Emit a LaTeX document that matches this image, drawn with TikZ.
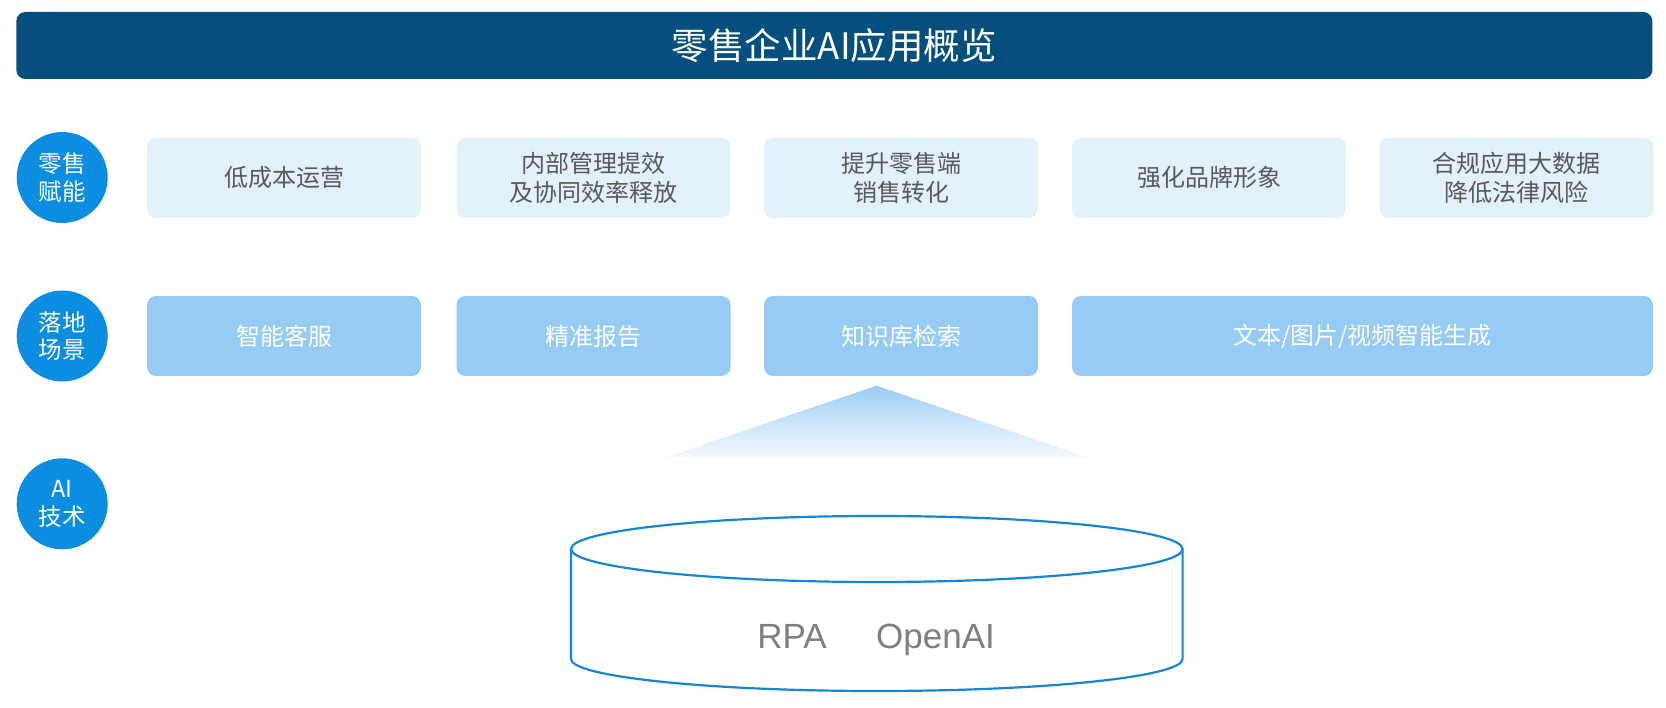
\documentclass[tikz,border=0pt]{standalone}
\usepackage{fontspec}
\setmainfont{Noto Sans CJK SC}
\newfontfamily\latinfont{Liberation Sans}
\definecolor{barblue}{HTML}{044F7D}
\definecolor{circblue}{HTML}{0B8DE1}
\definecolor{lightbox}{HTML}{E3F1FB}
\definecolor{midbox}{HTML}{95CBF5}
\definecolor{textgray}{HTML}{595959}
\definecolor{cylblue}{HTML}{1685D6}
\definecolor{techgray}{HTML}{7F7F7F}
\definecolor{tritop}{HTML}{98CCF4}
\definecolor{tribot}{HTML}{F3F9FE}
\begin{document}
\begin{tikzpicture}[x=1pt,y=-1pt,
  titlebar/.style={rectangle, rounded corners=9pt, fill=barblue, text=white,
    minimum width=1636pt, minimum height=67pt, inner sep=0pt,
    font=\fontsize{36.5}{40}\selectfont},
  cat/.style={circle, fill=circblue, text=white, minimum size=91pt, inner sep=0pt,
    align=center, font=\fontsize{23.5}{27.5}\selectfont},
  benefit/.style={rectangle, rounded corners=9pt, fill=lightbox, text=textgray,
    minimum width=274pt, minimum height=80pt, inner sep=0pt, align=center,
    font=\fontsize{24}{29}\selectfont},
  scene/.style={benefit, fill=midbox, text=white},
  cylline/.style={draw=cylblue, line width=2.2pt},
  techtext/.style={text=techgray, inner sep=0pt, font=\latinfont\fontsize{35}{40}\selectfont}
]
\useasboundingbox (0,0) rectangle (1666,708);

% title
\node[titlebar] (title) at (834.3,45.5) {零售企业AI应用概览};

% category circles
\node[cat] (c1) at (62.2,177.5) {零售\\赋能};
\node[cat] (c2) at (62.2,336) {落地\\场景};
\node[cat] (c3) at (62.2,503.8) {AI\\技术};

% row 1
\node[benefit] (b1) at (284,177.7) {低成本运营};
\node[benefit] (b2) at (593.5,177.7) {内部管理提效\\及协同效率释放};
\node[benefit] (b3) at (901,177.7) {提升零售端\\销售转化};
\node[benefit] (b4) at (1209,177.7) {强化品牌形象};
\node[benefit] (b5) at (1516.5,177.7) {合规应用大数据\\降低法律风险};

% row 2
\node[scene] (s1) at (284,336) {智能客服};
\node[scene] (s2) at (593.5,336) {精准报告};
\node[scene] (s3) at (901,336) {知识库检索};
\node[scene, minimum width=581pt] (s4) at (1362.5,336) {文本/图片/视频智能生成};

% gradient triangle
\coordinate (apex) at (876.5,385.7);
\coordinate (bl) at (665,457.5);
\coordinate (br) at (1088,457.5);
\shade[top color=tritop, bottom color=tribot, middle color=tribot!55!tritop] (apex) -- (br) -- (bl) -- cycle;

% cylinder
\coordinate (cyltop) at (876.8,549);
\coordinate (cylbot) at (876.8,659);
\draw[cylline] (cyltop) ellipse [x radius=305.8, y radius=33];
\draw[cylline] (571,549) -- (571,659) arc[start angle=180, end angle=0, x radius=305.8, y radius=32] -- (1182.6,549);

\node[techtext, anchor=base] (rpa) at (792,648) {RPA};
\node[techtext, anchor=base] (openai) at (935.5,648) {OpenAI};
\end{tikzpicture}
\end{document}
